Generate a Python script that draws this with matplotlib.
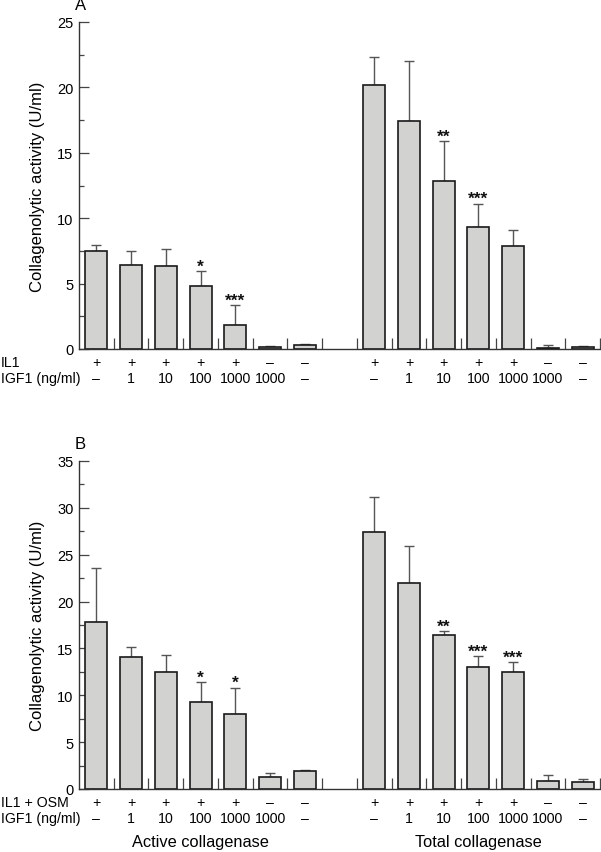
import matplotlib
matplotlib.use("Agg")
import matplotlib.pyplot as plt
from matplotlib.ticker import MultipleLocator
import numpy as np

plt.rcParams['font.family'] = ['Liberation Sans', 'DejaVu Sans']

# ---- data ----
row1_A = ['+', '+', '+', '+', '+', '–', '–']
row1_B = ['+', '+', '+', '+', '+', '–', '–']
igf1 = ['–', '1', '10', '100', '1000', '1000', '–']

A_active = [7.52, 6.42, 6.37, 4.79, 1.83, 0.15, 0.33]
A_active_err = [0.41, 1.05, 1.25, 1.15, 1.51, 0.07, 0.05]
A_total = [20.18, 17.40, 12.82, 9.33, 7.87, 0.10, 0.13]
A_total_err = [2.17, 4.64, 3.08, 1.76, 1.23, 0.20, 0.12]
A_sig_active = ['', '', '', '*', '***', '', '']
A_sig_total = ['', '', '**', '***', '', '', '']

B_active = [17.79, 14.05, 12.52, 9.25, 7.97, 1.28, 1.89]
B_active_err = [5.81, 1.14, 1.81, 2.17, 2.84, 0.39, 0.17]
B_total = [27.46, 21.98, 16.43, 13.02, 12.52, 0.89, 0.71]
B_total_err = [3.70, 3.92, 0.40, 1.14, 1.00, 0.57, 0.32]
B_sig_active = ['', '', '', '*', '*', '', '']
B_sig_total = ['', '', '**', '***', '***', '', '']

group_names = ['Active collagenase', 'Total collagenase']

W, H = 601, 853
fig = plt.figure(figsize=(W / 100, H / 100), dpi=100)

def px_axes(left, top, right, bottom):
    return fig.add_axes([left / W, 1 - bottom / H, (right - left) / W, (bottom - top) / H])

bar_color = '#d2d3d1'
edge_color = '#1a1a1a'
err_color = '#555555'

def panel(ax, act, act_err, tot, tot_err, sig_a, sig_t, ymax, row1, row1_name, letter, xlabels):
    n = len(act)
    xa = np.arange(n)
    xt = np.arange(n) + n + 1
    for xs, vals, errs, sigs in [(xa, act, act_err, sig_a), (xt, tot, tot_err, sig_t)]:
        ax.errorbar(xs, vals, yerr=[np.zeros(n), errs], fmt='none', ecolor=err_color,
                    elinewidth=1.0, capsize=3.6, capthick=1.0, zorder=1)
        ax.bar(xs, vals, width=0.63, color=bar_color, edgecolor=edge_color, linewidth=1.2, zorder=2)
        for x, v, e, s in zip(xs, vals, errs, sigs):
            if s:
                ax.annotate(s, xy=(x, v + e), xytext=(0, 0.5), textcoords='offset points',
                            ha='center', va='baseline', fontsize=12.5, fontweight='bold',
                            color='#111111')
        for x, r1, r2 in zip(xs, row1, igf1):
            ax.annotate(r1, xy=(x, 0), xycoords=('data', 'axes fraction'), xytext=(0, -12.7 * 0.72),
                        textcoords='offset points', ha='center', va='center', fontsize=10.2)
            ax.annotate(r2, xy=(x, 0), xycoords=('data', 'axes fraction'), xytext=(0, -29.3 * 0.72),
                        textcoords='offset points', ha='center', va='center', fontsize=10.2)
    ax.set_xlim(-0.5, 2 * n + 0.5)
    ax.set_ylim(0, ymax)
    ax.yaxis.set_major_locator(MultipleLocator(5))
    ax.yaxis.set_minor_locator(MultipleLocator(2.5))
    ax.set_xticks(np.arange(0.5, 2 * n + 1, 1.0))
    ax.set_xticklabels([])
    ax.tick_params(axis='x', direction='in', length=8, width=0.9, color='#444444')
    ax.tick_params(axis='y', which='major', direction='in', length=7, width=0.9, color='#444444',
                   labelsize=10.5, pad=4)
    ax.tick_params(axis='y', which='minor', direction='in', length=3.5, width=0.9, color='#444444')
    for s in ['top', 'right']:
        ax.spines[s].set_visible(False)
    for s in ['left', 'bottom']:
        ax.spines[s].set_linewidth(1.0)
        ax.spines[s].set_color('#333333')
    ax.set_ylabel('Collagenolytic activity (U/ml)', fontsize=12, labelpad=9)
    ax.annotate(row1_name, xy=(0, 0), xycoords=('figure fraction', 'axes fraction'),
                xytext=(1 * 0.72, -12.7 * 0.72), textcoords='offset points', ha='left', va='center', fontsize=10.2)
    ax.annotate('IGF1 (ng/ml)', xy=(0, 0), xycoords=('figure fraction', 'axes fraction'),
                xytext=(1 * 0.72, -29.3 * 0.72), textcoords='offset points', ha='left', va='center', fontsize=10.2)
    ax.annotate(letter, xy=(0, 1), xycoords='axes fraction', xytext=(1.5 * 0.72, 17 * 0.72),
                textcoords='offset points', ha='center', va='center', fontsize=12)
    if xlabels:
        for xs, name in [(xa, xlabels[0]), (xt, xlabels[1])]:
            ax.annotate(name, xy=(xs.mean(), 0), xycoords=('data', 'axes fraction'), xytext=(0, -53 * 0.72),
                        textcoords='offset points', ha='center', va='center', fontsize=11.8)

axA = px_axes(79, 23, 600, 350)
panel(axA, A_active, A_active_err, A_total, A_total_err, A_sig_active, A_sig_total, 25,
      row1_A, 'IL1', 'A', None)

axB = px_axes(79, 462, 600, 790)
panel(axB, B_active, B_active_err, B_total, B_total_err, B_sig_active, B_sig_total, 35,
      row1_B, 'IL1 + OSM', 'B', group_names)

fig.savefig('out.png', dpi=100)
